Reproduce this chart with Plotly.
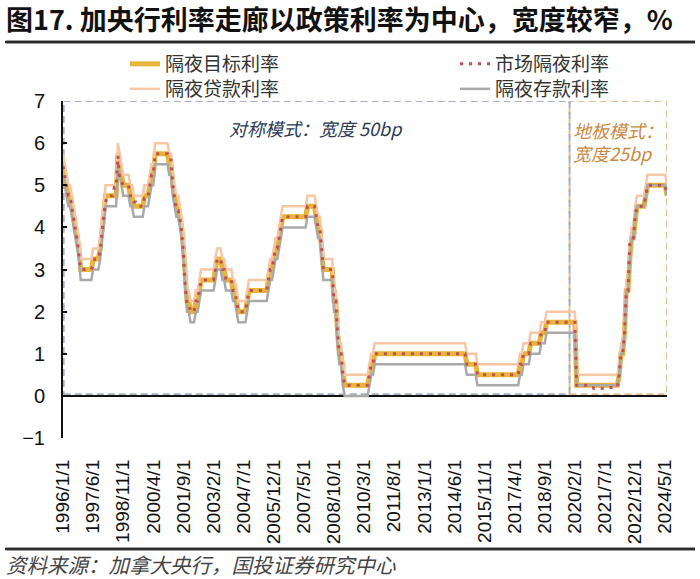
import pandas as pd
import plotly.graph_objects as go

# ---------------- data (monthly, change points; value holds until next change) -------------
target_changes = [
    ("1996-01", 5.5), ("1996-02", 5.25), ("1996-03", 5.0), ("1996-04", 4.75), ("1996-06", 4.5),
    ("1996-07", 4.25), ("1996-08", 4.0), ("1996-09", 3.75), ("1996-10", 3.5), ("1996-11", 3.0),
    ("1997-06", 3.25), ("1997-10", 3.5), ("1997-11", 4.0), ("1997-12", 4.25),
    ("1998-01", 4.75), ("1998-08", 5.75), ("1998-09", 5.5), ("1998-10", 5.25), ("1998-11", 5.0),
    ("1999-03", 4.75), ("1999-05", 4.5), ("1999-11", 4.75),
    ("2000-02", 5.0), ("2000-03", 5.25), ("2000-05", 5.75),
    ("2001-01", 5.5), ("2001-03", 5.0), ("2001-04", 4.75), ("2001-05", 4.5), ("2001-07", 4.25),
    ("2001-08", 4.0), ("2001-09", 3.5), ("2001-10", 2.75), ("2001-11", 2.25),
    ("2002-01", 2.0), ("2002-04", 2.25), ("2002-06", 2.5), ("2002-07", 2.75),
    ("2003-03", 3.0), ("2003-04", 3.25), ("2003-07", 3.0), ("2003-09", 2.75),
    ("2004-01", 2.5), ("2004-03", 2.25), ("2004-04", 2.0), ("2004-09", 2.25), ("2004-10", 2.5),
    ("2005-09", 2.75), ("2005-10", 3.0), ("2005-12", 3.25),
    ("2006-01", 3.5), ("2006-03", 3.75), ("2006-04", 4.0), ("2006-05", 4.25),
    ("2007-07", 4.5), ("2007-12", 4.25),
    ("2008-01", 4.0), ("2008-03", 3.5), ("2008-04", 3.0), ("2008-10", 2.25), ("2008-12", 1.5),
    ("2009-01", 1.0), ("2009-03", 0.5), ("2009-04", 0.25),
    ("2010-06", 0.5), ("2010-07", 0.75), ("2010-09", 1.0),
    ("2015-01", 0.75), ("2015-07", 0.5),
    ("2017-07", 0.75), ("2017-09", 1.0),
    ("2018-01", 1.25), ("2018-07", 1.5), ("2018-10", 1.75),
    ("2020-03", 0.25),
    ("2022-03", 0.5), ("2022-04", 1.0), ("2022-06", 1.5), ("2022-07", 2.5), ("2022-09", 3.25),
    ("2022-10", 3.75), ("2022-12", 4.25),
    ("2023-01", 4.5), ("2023-06", 4.75), ("2023-07", 5.0),
    ("2024-06", 4.75),
]

market_changes = [
    ("1996-01", 5.45), ("1996-02", 5.2), ("1996-03", 4.95), ("1996-04", 4.75), ("1996-06", 4.45),
    ("1996-07", 4.2), ("1996-08", 3.95), ("1996-09", 3.7), ("1996-10", 3.4), ("1996-11", 3.0),
    ("1997-06", 3.1), ("1997-07", 3.25), ("1997-10", 3.45), ("1997-11", 3.95), ("1997-12", 4.3),
    ("1998-01", 4.6), ("1998-02", 4.75), ("1998-06", 4.95), ("1998-08", 5.7), ("1998-09", 5.15),
    ("1998-10", 5.1), ("1998-11", 5.0),
    ("1999-03", 4.75), ("1999-05", 4.6), ("1999-07", 4.5), ("1999-11", 4.7),
    ("2000-02", 5.0), ("2000-03", 5.25), ("2000-05", 5.75),
    ("2001-01", 5.6), ("2001-03", 5.0), ("2001-04", 4.7), ("2001-05", 4.4), ("2001-07", 4.2),
    ("2001-08", 3.9), ("2001-09", 3.4), ("2001-10", 2.6), ("2001-11", 2.2),
    ("2002-01", 2.0), ("2002-04", 2.25), ("2002-06", 2.5), ("2002-07", 2.75),
    ("2003-03", 3.0), ("2003-04", 3.25), ("2003-07", 3.0), ("2003-09", 2.75),
    ("2004-01", 2.5), ("2004-03", 2.25), ("2004-04", 2.0), ("2004-09", 2.25), ("2004-10", 2.5),
    ("2005-09", 2.75), ("2005-10", 3.0), ("2005-12", 3.25),
    ("2006-01", 3.5), ("2006-03", 3.75), ("2006-04", 4.0), ("2006-05", 4.25),
    ("2007-07", 4.5), ("2007-12", 4.25),
    ("2008-01", 4.0), ("2008-03", 3.5), ("2008-04", 3.0), ("2008-10", 2.25), ("2008-12", 1.5),
    ("2009-01", 1.0), ("2009-03", 0.5), ("2009-04", 0.25),
    ("2010-06", 0.5), ("2010-07", 0.75), ("2010-09", 1.0),
    ("2015-01", 0.75), ("2015-07", 0.5),
    ("2017-07", 0.75), ("2017-09", 1.0),
    ("2018-01", 1.25), ("2018-07", 1.5), ("2018-10", 1.75),
    ("2020-03", 0.25), ("2020-10", 0.2), ("2021-01", 0.17), ("2021-04", 0.18), ("2021-08", 0.2),
    ("2022-01", 0.2),
    ("2022-03", 0.5), ("2022-04", 1.0), ("2022-06", 1.5), ("2022-07", 2.5), ("2022-09", 3.6),
    ("2022-10", 3.75), ("2022-12", 4.25),
    ("2023-01", 4.5), ("2023-06", 4.75), ("2023-07", 5.0),
    ("2024-06", 4.75),
]

lending_changes = [
    ("1996-01", 5.75), ("1996-02", 5.5), ("1996-03", 5.25), ("1996-04", 5.0), ("1996-06", 4.75),
    ("1996-07", 4.5), ("1996-08", 4.25), ("1996-09", 4.0), ("1996-10", 3.75), ("1996-11", 3.25),
    ("1997-06", 3.5), ("1997-10", 3.75), ("1997-11", 4.25), ("1997-12", 4.5),
    ("1998-01", 5.0), ("1998-08", 6.0), ("1998-09", 5.75), ("1998-10", 5.5), ("1998-11", 5.25),
    ("1999-03", 5.0), ("1999-05", 4.75), ("1999-11", 5.0),
    ("2000-02", 5.25), ("2000-03", 5.5), ("2000-05", 6.0),
    ("2001-01", 5.75), ("2001-03", 5.25), ("2001-04", 5.0), ("2001-05", 4.75), ("2001-07", 4.5),
    ("2001-08", 4.25), ("2001-09", 3.75), ("2001-10", 3.0), ("2001-11", 2.5),
    ("2002-01", 2.25), ("2002-04", 2.5), ("2002-06", 2.75), ("2002-07", 3.0),
    ("2003-03", 3.25), ("2003-04", 3.5), ("2003-07", 3.25), ("2003-09", 3.0),
    ("2004-01", 2.75), ("2004-03", 2.5), ("2004-04", 2.25), ("2004-09", 2.5), ("2004-10", 2.75),
    ("2005-09", 3.0), ("2005-10", 3.25), ("2005-12", 3.5),
    ("2006-01", 3.75), ("2006-03", 4.0), ("2006-04", 4.25), ("2006-05", 4.5),
    ("2007-07", 4.75), ("2007-12", 4.5),
    ("2008-01", 4.25), ("2008-03", 3.75), ("2008-04", 3.25), ("2008-10", 2.5), ("2008-12", 1.75),
    ("2009-01", 1.25), ("2009-03", 0.75), ("2009-04", 0.5),
    ("2010-06", 0.75), ("2010-07", 1.0), ("2010-09", 1.25),
    ("2015-01", 1.0), ("2015-07", 0.75),
    ("2017-07", 1.0), ("2017-09", 1.25),
    ("2018-01", 1.5), ("2018-07", 1.75), ("2018-10", 2.0),
    ("2020-03", 0.5),
    ("2022-03", 0.75), ("2022-04", 1.25), ("2022-06", 1.75), ("2022-07", 2.75), ("2022-09", 3.5),
    ("2022-10", 4.0), ("2022-12", 4.5),
    ("2023-01", 4.75), ("2023-06", 5.0), ("2023-07", 5.25),
    ("2024-06", 5.0),
]

deposit_changes = [
    ("1996-01", 5.25), ("1996-02", 5.0), ("1996-03", 4.75), ("1996-04", 4.5), ("1996-06", 4.25),
    ("1996-07", 4.0), ("1996-08", 3.75), ("1996-09", 3.5), ("1996-10", 3.25), ("1996-11", 2.75),
    ("1997-06", 3.0), ("1997-10", 3.25), ("1997-11", 3.75), ("1997-12", 4.0),
    ("1998-01", 4.5), ("1998-08", 5.5), ("1998-09", 5.25), ("1998-10", 5.0), ("1998-11", 4.75),
    ("1999-03", 4.5), ("1999-05", 4.25), ("1999-11", 4.5),
    ("2000-02", 4.75), ("2000-03", 5.0), ("2000-05", 5.5),
    ("2001-01", 5.25), ("2001-03", 4.75), ("2001-04", 4.5), ("2001-05", 4.25), ("2001-07", 4.0),
    ("2001-08", 3.75), ("2001-09", 3.25), ("2001-10", 2.5), ("2001-11", 2.0),
    ("2002-01", 1.75), ("2002-04", 2.0), ("2002-06", 2.25), ("2002-07", 2.5),
    ("2003-03", 2.75), ("2003-04", 3.0), ("2003-07", 2.75), ("2003-09", 2.5),
    ("2004-01", 2.25), ("2004-03", 2.0), ("2004-04", 1.75), ("2004-09", 2.0), ("2004-10", 2.25),
    ("2005-09", 2.5), ("2005-10", 2.75), ("2005-12", 3.0),
    ("2006-01", 3.25), ("2006-03", 3.5), ("2006-04", 3.75), ("2006-05", 4.0),
    ("2007-07", 4.25), ("2007-12", 4.0),
    ("2008-01", 3.75), ("2008-03", 3.25), ("2008-04", 2.75), ("2008-10", 2.0), ("2008-12", 1.25),
    ("2009-01", 0.75), ("2009-03", 0.25), ("2009-04", 0.0),
    ("2010-06", 0.25), ("2010-07", 0.5), ("2010-09", 0.75),
    ("2015-01", 0.5), ("2015-07", 0.25),
    ("2017-07", 0.5), ("2017-09", 0.75),
    ("2018-01", 1.0), ("2018-07", 1.25), ("2018-10", 1.5),
    ("2020-03", 0.25),
    ("2022-03", 0.5), ("2022-04", 1.0), ("2022-06", 1.5), ("2022-07", 2.5), ("2022-09", 3.25),
    ("2022-10", 3.75), ("2022-12", 4.25),
    ("2023-01", 4.5), ("2023-06", 4.75), ("2023-07", 5.0),
    ("2024-06", 4.75),
]

start_month = "1996-01"
end_month = "2024-06"

tick_labels = ["1996/1/1", "1997/6/1", "1998/11/1", "2000/4/1", "2001/9/1", "2003/2/1",
               "2004/7/1", "2005/12/1", "2007/5/1", "2008/10/1", "2010/3/1", "2011/8/1",
               "2013/1/1", "2014/6/1", "2015/11/1", "2017/4/1", "2018/9/1", "2020/2/1",
               "2021/7/1", "2022/12/1", "2024/5/1"]

series_names = ["隔夜目标利率", "市场隔夜利率", "隔夜贷款利率", "隔夜存款利率"]

# ---------------- build monthly series ----------------
periods = pd.period_range(start_month, end_month, freq="M")
cats = [f"{p.year}/{p.month}/1" for p in periods]


def monthly(changes):
    s = pd.Series([v for _, v in changes], index=pd.PeriodIndex([d for d, _ in changes], freq="M"))
    return s.reindex(periods).ffill().tolist()


target = monthly(target_changes)
market = monthly(market_changes)
lending = monthly(lending_changes)
deposit = monthly(deposit_changes)

# ---------------- layout helpers (paper = whole figure; plot area set by domains) ----------------
W, H = 700, 579
L, R, T, B = 63, 667, 101, 438


def fx(x):
    return x / W


def fy(y):
    return 1 - y / H


def dx(x):
    return (x - L) / (R - L)


def dy(y):
    return (B - y) / (B - T)


FONT = "Liberation Sans, Arial, Noto Sans CJK SC, sans-serif"
CJK = "Noto Sans CJK SC, Liberation Sans, sans-serif"

fig = go.Figure()

fig.add_trace(go.Scatter(x=cats, y=target, name=series_names[0], mode="lines",
                         line=dict(color="#E8B43A", width=5), legend="legend"))
fig.add_trace(go.Scatter(x=cats, y=lending, name=series_names[2], mode="lines",
                         line=dict(color="#F7C6A5", width=2.5), legend="legend3"))
fig.add_trace(go.Scatter(x=cats, y=deposit, name=series_names[3], mode="lines",
                         line=dict(color="#A9A9A9", width=2.5), legend="legend4"))
fig.add_trace(go.Scatter(x=cats, y=market, name=series_names[1], mode="lines",
                         line=dict(color="#C0504D", width=3, dash="3px,6px"), legend="legend2"))

n = len(cats)
idx_box = cats.index("2019/11/1")

shapes = [
    dict(type="rect", xref="x", yref="y", x0=idx_box, x1=n - 1, y0=0.04, y1=7,
         line=dict(color="#E3C197", width=2, dash="7px,4px"), layer="below"),
    dict(type="rect", xref="x", yref="y", x0=0.4, x1=idx_box, y0=0.04, y1=7,
         line=dict(color="#A9B0C2", width=2, dash="7px,4px"), layer="below"),
    # title rule and bottom rule, referenced to the plot-area domain
    dict(type="line", xref="x domain", yref="y domain", x0=dx(5), x1=dx(695), y0=dy(42), y1=dy(42),
         line=dict(color="#2A2A2A", width=2.5), layer="above"),
    dict(type="line", xref="x domain", yref="y domain", x0=dx(5), x1=dx(695), y0=dy(549), y1=dy(549),
         line=dict(color="#2A2A2A", width=2.5), layer="above"),
]


def rule(y_px):
    # horizontal rule drawn as an arrowless annotation line (head at right end, tail 690 px left)
    return dict(text="", xref="paper", yref="paper", x=fx(695), y=fy(y_px), showarrow=True,
                arrowhead=0, arrowwidth=2.5, arrowcolor="#2A2A2A", ax=-690, ay=0,
                axref="pixel", ayref="pixel", standoff=0, startstandoff=0)


annotations = [
    rule(42),
    rule(549),
    dict(text="<b>图17. 加央行利率走廊以政策利率为中心，宽度较窄，%</b>", xref="paper", yref="paper",
         x=fx(4), y=fy(19), xanchor="left", yanchor="middle", showarrow=False,
         font=dict(family=CJK, size=27, color="#111111")),
    dict(text="对称模式：宽度 50bp", xref="paper", yref="paper", x=fx(316), y=fy(128),
         xanchor="center", yanchor="middle", showarrow=False,
         font=dict(family=CJK, size=18, color="#2B3954", style="italic")),
    dict(text="地板模式：<br>宽度25bp", xref="paper", yref="paper", x=fx(571), y=fy(141),
         xanchor="left", yanchor="middle", align="left", showarrow=False,
         font=dict(family=CJK, size=18, color="#C98A3F", style="italic")),
    dict(text="资料来源：加拿大央行，国投证券研究中心", xref="paper", yref="paper", x=fx(4), y=fy(564),
         xanchor="left", yanchor="middle", showarrow=False,
         font=dict(family=CJK, size=20.5, color="#444444", style="italic")),
]


def leg(xp, yp):
    return dict(orientation="h", xref="container", yref="container", x=xp / W, y=1 - yp / H,
                xanchor="left", yanchor="top",
                font=dict(family=CJK, size=19, color="#333333"), bgcolor="rgba(0,0,0,0)")


ydom = [fy(B), fy(T)]

fig.update_layout(
    width=W, height=H,
    margin=dict(l=0, r=0, t=0, b=0, autoexpand=False),
    paper_bgcolor="white", plot_bgcolor="white",
    font=dict(family=FONT, color="#111111"),
    shapes=shapes, annotations=annotations,
    showlegend=True,
    legend=leg(125, 45),
    legend2=leg(455, 45),
    legend3=leg(125, 70),
    legend4=leg(455, 70),
    xaxis=dict(domain=[fx(L), fx(R)], type="category", categoryorder="array", categoryarray=cats,
               range=[0, n - 1], tickmode="array", tickvals=tick_labels, ticktext=tick_labels,
               tickangle=-90, ticks="", showline=False, showgrid=False, zeroline=False,
               tickfont=dict(family=FONT, size=19, color="#111111"), ticklabelstandoff=17),
    yaxis=dict(domain=ydom, range=[-1, 7], dtick=1, tick0=0, ticks="inside", ticklen=4, tickwidth=2,
               tickcolor="#111111", showline=True, linecolor="#111111", linewidth=2,
               showgrid=False, zeroline=True, zerolinecolor="#111111", zerolinewidth=2,
               ticklabelstandoff=12,
               tickfont=dict(family=FONT, size=20, color="#111111")),
)

fig.write_html("out.html")
